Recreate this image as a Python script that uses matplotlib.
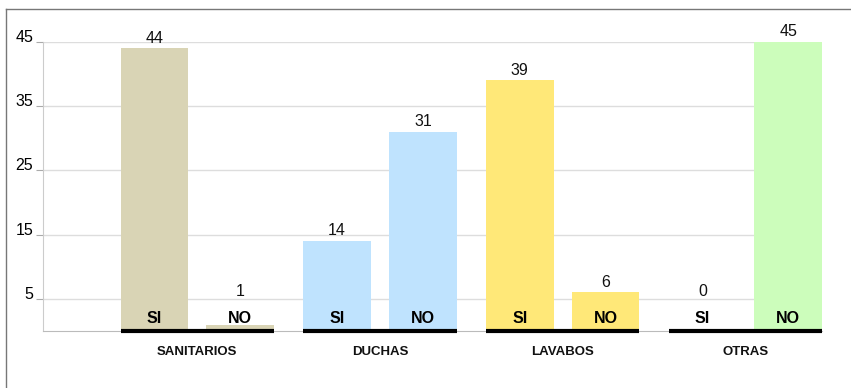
import matplotlib.pyplot as plt
from matplotlib.lines import Line2D
import numpy as np

plt.rcParams['font.family'] = ['Liberation Sans', 'DejaVu Sans']

categories = ["SANITARIOS", "DUCHAS", "LAVABOS", "OTRAS"]
si_values = [44, 14, 39, 0]
no_values = [1, 31, 6, 45]
colors = ["#d9d4b5", "#bfe3fe", "#ffe878", "#ccfdbb"]
yticks = [5, 15, 25, 35, 45]

fig = plt.figure(figsize=(8.51, 3.88), dpi=100)
ax = fig.add_axes([0.0505, 0.147, 0.9155, 0.745])

x = np.arange(len(categories))
off = 0.235
w = 0.37


def label_y(v):
    # small bars get their number lifted above the SI/NO text
    return max(v, 4.6) + 1.6


ax.bar(x - off, si_values, w, color=colors, zorder=2)
ax.bar(x + off, no_values, w, color=colors, zorder=2)

for i in range(len(categories)):
    ax.text(x[i] - off, label_y(si_values[i]), str(si_values[i]), ha="center",
            va="center", fontsize=11.5, color="#111111")
    ax.text(x[i] + off, label_y(no_values[i]), str(no_values[i]), ha="center",
            va="center", fontsize=11.5, color="#111111")
    ax.text(x[i] - off, 2.0, "SI", ha="center", va="center", fontsize=11.5,
            fontweight="bold", zorder=3)
    ax.text(x[i] + off, 2.0, "NO", ha="center", va="center", fontsize=11.5,
            fontweight="bold", zorder=3)
    # thick black base under each group
    ax.plot([x[i] - off - w / 2, x[i] + off + w / 2], [0, 0], color="black",
            lw=3, solid_capstyle="butt", zorder=4, clip_on=False)
    ax.text(x[i], -3.3, categories[i], ha="center", va="center", fontsize=9.5,
            fontweight="bold", color="#111111")

ax.set_xlim(-0.845, 3.42)
ax.set_ylim(0, 45)
ax.set_xticks([])
ax.set_yticks(yticks)
ax.set_yticklabels([str(t) for t in yticks], va="baseline", fontsize=11.5)
ax.tick_params(axis="y", length=5, color="#aaaaaa", pad=2)
ax.grid(axis="y", color="#dddddd", lw=1, zorder=0)
for s in ["top", "right"]:
    ax.spines[s].set_visible(False)
ax.spines["left"].set_color("#cccccc")
ax.spines["bottom"].set_color("#bbbbbb")

# outer frame lines (top and left)
fig.add_artist(Line2D([6 / 851, 1], [1 - 9 / 388, 1 - 9 / 388], color="#777777", lw=1))
fig.add_artist(Line2D([6 / 851, 6 / 851], [0, 1 - 9 / 388], color="#777777", lw=1))

fig.savefig("out.png", dpi=100)
